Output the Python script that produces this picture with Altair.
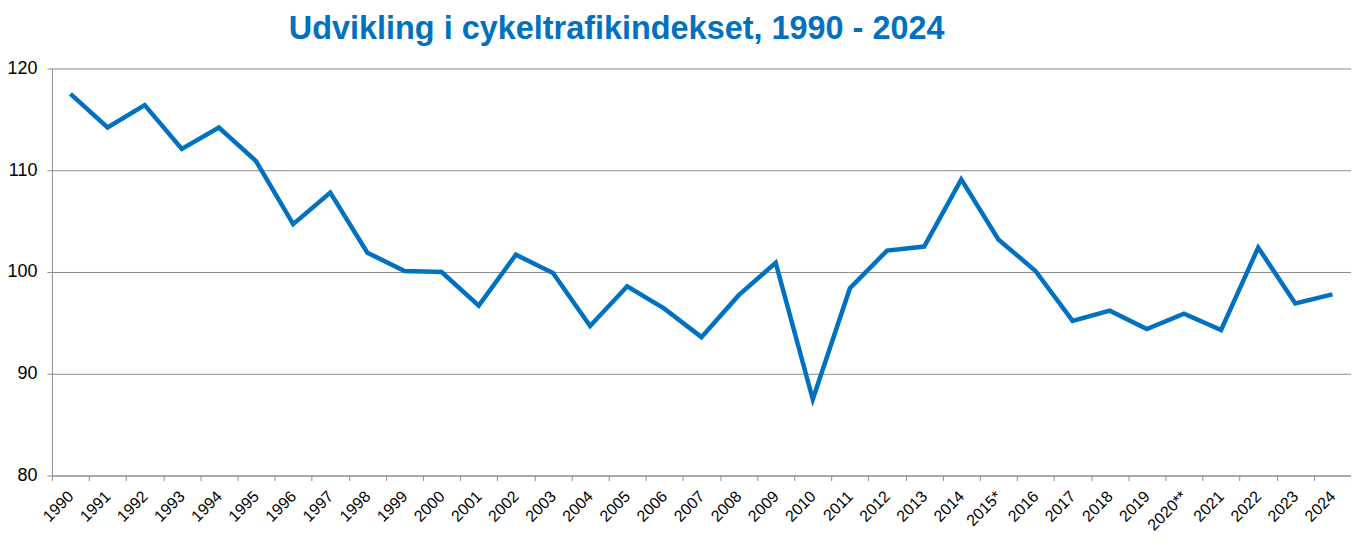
import altair as alt
import pandas as pd

years = ["1990", "1991", "1992", "1993", "1994", "1995", "1996", "1997", "1998", "1999",
         "2000", "2001", "2002", "2003", "2004", "2005", "2006", "2007", "2008", "2009",
         "2010", "2011", "2012", "2013", "2014", "2015*", "2016", "2017", "2018", "2019",
         "2020**", "2021", "2022", "2023", "2024"]
values = [117.5, 114.2, 116.4, 112.1, 114.2, 110.9, 104.7, 107.8, 101.9, 100.1,
          100.0, 96.7, 101.7, 99.9, 94.7, 98.6, 96.4, 93.6, 97.7, 100.9,
          87.5, 98.4, 102.1, 102.5, 109.1, 103.2, 100.1, 95.2, 96.2, 94.4,
          95.9, 94.3, 102.4, 96.9, 97.8]
y_ticks = [80, 90, 100, 110, 120]

df = pd.DataFrame({"year": years, "value": values})

FONT = "Liberation Sans"
BLUE = "#0070C0"
GRID = "#8c8c8c"

chart = alt.Chart(df).mark_line(color=BLUE, strokeWidth=4.5, strokeJoin="miter").encode(
    x=alt.X("year:N", sort=years,
            scale=alt.Scale(paddingInner=0, paddingOuter=0),
            axis=alt.Axis(title=None, labelAngle=-45, labelAlign="right", labelBaseline="middle",
                          labelFont=FONT, labelFontSize=16,
                          labelColor="#000000", domainColor=GRID, tickColor=GRID,
                          tickSize=5, tickBand="extent", grid=False, labelPadding=13)),
    y=alt.Y("value:Q",
            scale=alt.Scale(domain=[80, 120], nice=False, zero=False),
            axis=alt.Axis(title=None, values=y_ticks, labelFont=FONT, labelFontSize=18,
                          labelColor="#000000", domainColor=GRID, tickColor=GRID,
                          tickSize=5, grid=True, gridColor=GRID, gridOpacity=1,
                          labelPadding=10)),
).properties(
    width=1302,
    height=408,
    autosize=alt.AutoSizeParams(type="none"),
    padding={"left": 44, "top": 60, "right": 0, "bottom": 60},
    title=alt.TitleParams(
        "Udvikling i cykeltrafikindekset, 1990 - 2024",
        font=FONT, fontSize=32.5, fontWeight="bold", color=BLUE,
        anchor="middle", dx=-85, offset=14,
    ),
).configure_view(stroke=None)

chart.save("out.html", embed_options={"renderer": "svg", "actions": False})
